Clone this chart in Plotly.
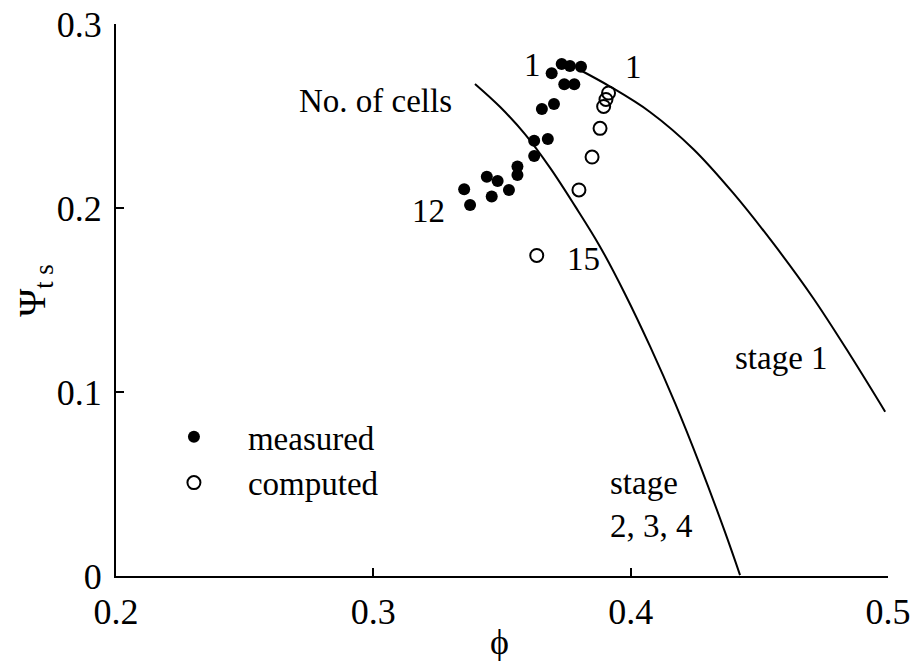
import plotly.graph_objects as go

# Measured stage performance points (flow coefficient phi, total-to-static pressure coefficient psi_ts)
meas_phi = [0.3732, 0.3764, 0.3807, 0.3693, 0.3742, 0.3781, 0.3655, 0.3702, 0.3625, 0.3678,
            0.3625, 0.3560, 0.3560, 0.3441, 0.3483, 0.3527, 0.3460, 0.3353, 0.3376]
meas_psi = [0.2783, 0.2772, 0.2768, 0.2732, 0.2672, 0.2672, 0.2538, 0.2565, 0.2366, 0.2375,
            0.2283, 0.2225, 0.2179, 0.2170, 0.2147, 0.2098, 0.2062, 0.2102, 0.2016]

# Computed points
comp_phi = [0.3914, 0.3904, 0.3895, 0.3881, 0.3850, 0.3799, 0.3635]
comp_psi = [0.2625, 0.2590, 0.2552, 0.2433, 0.2277, 0.2098, 0.1742]

# Fan characteristic, stage 1
s1_phi = [0.3803, 0.3920, 0.4075, 0.4243, 0.4398, 0.4553, 0.4709, 0.4853, 0.4989]
s1_psi = [0.2750, 0.2660, 0.2522, 0.2321, 0.2082, 0.1810, 0.1511, 0.1201, 0.0893]

# Fan characteristic, stages 2, 3, 4
s2_phi = [0.3395, 0.3492, 0.3590, 0.3687, 0.3784, 0.3881, 0.3978, 0.4075, 0.4173,
          0.4270, 0.4367, 0.4425]
s2_psi = [0.2674, 0.2550, 0.2400, 0.2218, 0.2010, 0.1790, 0.1533, 0.1249, 0.0938,
          0.0600, 0.0237, 0.0005]

x_ticks = [0.2, 0.3, 0.4, 0.5]
y_ticks = [0, 0.1, 0.2, 0.3]

FONT = "Liberation Serif, Times New Roman, serif"
FS = 33
TICK_FS = 36

fig = go.Figure()

line_style = dict(color="black", width=2, shape="spline", smoothing=1)
fig.add_trace(go.Scatter(x=s1_phi, y=s1_psi, mode="lines", line=line_style,
                         showlegend=False, hoverinfo="skip"))
fig.add_trace(go.Scatter(x=s2_phi, y=s2_psi, mode="lines", line=line_style,
                         showlegend=False, hoverinfo="skip"))

fig.add_trace(go.Scatter(x=meas_phi, y=meas_psi, mode="markers", name="measured",
                         marker=dict(symbol="circle", size=12, color="black")))
fig.add_trace(go.Scatter(x=comp_phi, y=comp_psi, mode="markers", name="computed",
                         marker=dict(symbol="circle-open", size=13, color="black",
                                     line=dict(width=2, color="black"))))

labels = [
    ("No. of cells", 0.3007, 0.2582),
    ("1", 0.3620, 0.2777),
    ("1", 0.4011, 0.2766),
    ("12", 0.3214, 0.1984),
    ("15", 0.3816, 0.1723),
    ("stage 1", 0.4587, 0.1185),
]
for txt, x, y in labels:
    fig.add_annotation(x=x, y=y, text=txt, showarrow=False, xanchor="center", yanchor="middle",
                       font=dict(family=FONT, size=FS, color="black"))

fig.add_annotation(x=0.3912, y=0.0390, text="stage<br>2, 3, 4", showarrow=False,
                   xanchor="left", yanchor="middle", align="left",
                   font=dict(family=FONT, size=FS, color="black"))

# Axis titles
fig.add_annotation(xref="x", yref="paper", x=0.3492, y=0, yshift=-66, text="\u03d5",
                   showarrow=False, xanchor="center", yanchor="middle",
                   font=dict(family=FONT, size=FS + 3, color="black"))
fig.add_annotation(xref="paper", yref="y", x=0, xshift=-81, y=0.155,
                   text="\u03a8<sub>t s</sub>", textangle=-90, showarrow=False,
                   xanchor="center", yanchor="middle",
                   font=dict(family=FONT, size=FS + 5, color="black"))

axis_common = dict(showline=True, linecolor="black", linewidth=2, ticks="inside",
                   ticklen=8, tickwidth=2, tickcolor="black", showgrid=False,
                   zeroline=False, mirror=False, automargin=False,
                   tickfont=dict(family=FONT, size=TICK_FS, color="black"))

fig.update_xaxes(range=[0.2, 0.5], tickvals=x_ticks, ticktext=[f"{v:.1f}" for v in x_ticks],
                 ticklabelstandoff=3, **axis_common)
fig.update_yaxes(range=[0, 0.3], tickvals=y_ticks,
                 ticktext=["0" if v == 0 else f"{v:.1f}" for v in y_ticks],
                 ticklabelstandoff=5, **axis_common)

fig.update_layout(
    width=914, height=661,
    margin=dict(l=116, r=26, t=24, b=85, autoexpand=False),
    plot_bgcolor="white", paper_bgcolor="white",
    font=dict(family=FONT, size=FS, color="black"),
    showlegend=True,
    legend=dict(x=0.031, y=0.303, xanchor="left", yanchor="top",
                bgcolor="rgba(0,0,0,0)", borderwidth=0, itemwidth=98,
                font=dict(family=FONT, size=FS, color="black"), tracegroupgap=0),
)

fig.write_html("out.html")
